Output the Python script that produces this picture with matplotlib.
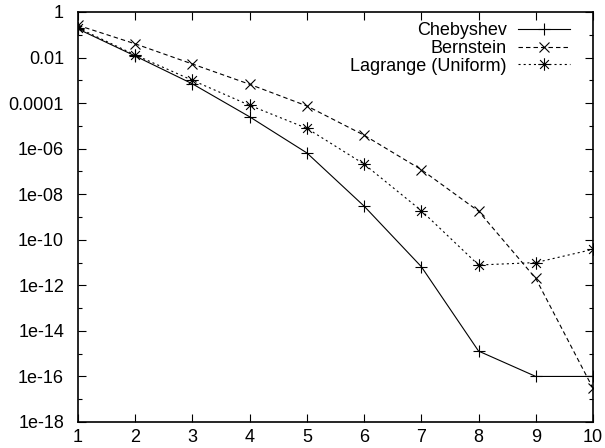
import matplotlib
matplotlib.use("Agg")
import matplotlib.pyplot as plt
from matplotlib.path import Path
from matplotlib.ticker import FixedLocator, NullLocator, NullFormatter

plt.rcParams['font.family'] = ['Liberation Sans', 'DejaVu Sans']
plt.rcParams['lines.scale_dashes'] = False

x = [1, 2, 3, 4, 5, 6, 7, 8, 9, 10]
chebyshev = [0.18, 0.0117, 7e-4, 2.5e-5, 6.5e-7, 3e-9, 6.6e-12, 1.3e-15, 1.0e-16, 1.0e-16]
bernstein = [0.26, 0.04, 0.0052, 6.7e-4, 7.5e-5, 3.9e-6, 1.2e-7, 1.8e-9, 2e-12, 3e-17]
lagrange = [0.2, 0.013, 1e-3, 8e-5, 7.8e-6, 2.1e-7, 1.9e-9, 7.8e-12, 1e-11, 3.8e-11]

labels = ["Chebyshev", "Bernstein", "Lagrange (Uniform)"]
ytick_vals = [1, 1e-2, 1e-4, 1e-6, 1e-8, 1e-10, 1e-12, 1e-14, 1e-16, 1e-18]
ytick_labels = ["1", "0.01", "0.0001", "1e-06", "1e-08", "1e-10", "1e-12", "1e-14", "1e-16", "1e-18"]
yminor_vals = [1e-1, 1e-3, 1e-5, 1e-7, 1e-9, 1e-11, 1e-13, 1e-15, 1e-17]
xtick_vals = [1, 2, 3, 4, 5, 6, 7, 8, 9, 10]

# asterisk marker (+ and x superimposed)
d = 0.7071
ast = Path([(0, -1), (0, 1), (-1, 0), (1, 0), (-d, -d), (d, d), (-d, d), (d, -d)],
           [Path.MOVETO, Path.LINETO] * 4)

fig = plt.figure(figsize=(6.05, 4.48), dpi=100)
ax = fig.add_axes([78/605, 26/448, (593-78)/605, (422-12)/448])

lw = 0.8
ax.plot(x, chebyshev, color='black', lw=lw, linestyle='-', marker='+', ms=9, mew=0.8, label=labels[0])
ax.plot(x, bernstein, color='black', lw=lw, dashes=(3.2, 2.2), marker='x', ms=7, mew=0.8, label=labels[1])
ax.plot(x, lagrange, color='black', lw=lw, dashes=(1.5, 2.2), marker=ast, ms=9, mew=0.8,
        markerfacecolor='none', label=labels[2])

ax.set_yscale('log')
ax.set_xlim(1, 10)
ax.set_ylim(1e-18, 1)
ax.yaxis.set_major_locator(FixedLocator(ytick_vals))
ax.set_yticklabels(ytick_labels)
ax.yaxis.set_minor_locator(FixedLocator(yminor_vals))
ax.yaxis.set_minor_formatter(NullFormatter())
ax.xaxis.set_major_locator(FixedLocator(xtick_vals))
ax.set_xticklabels([str(v) for v in xtick_vals])
ax.xaxis.set_minor_locator(NullLocator())

fs = 13
ax.tick_params(axis='both', which='major', direction='in', length=6, width=0.8,
               top=True, right=True, labelsize=fs)
ax.tick_params(axis='y', which='minor', direction='in', length=3, width=0.8, left=True, right=True)
ax.tick_params(axis='y', which='major', pad=10)
ax.tick_params(axis='x', which='major', pad=5)
for s in ax.spines.values():
    s.set_linewidth(1.2)

leg = ax.legend(loc='upper right', bbox_to_anchor=(570/605, 1 - 22/448), bbox_transform=fig.transFigure,
                frameon=False, markerfirst=False, fontsize=fs, handlelength=2.9, handletextpad=0.6,
                labelspacing=0.05, borderpad=0, borderaxespad=0)

fig.savefig("out.png", dpi=100)
